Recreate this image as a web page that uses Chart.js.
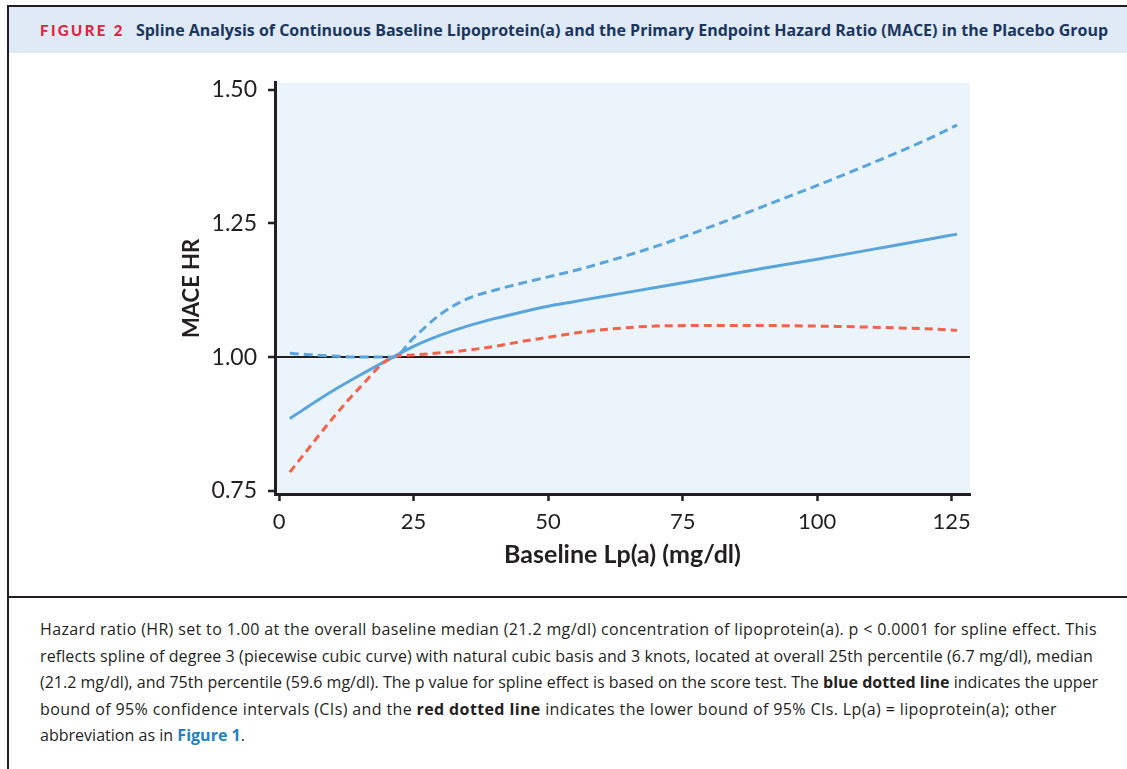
<!DOCTYPE html>
<html>
<head>
<meta charset="utf-8">
<script src="https://cdn.jsdelivr.net/npm/chart.js@4.4.1/dist/chart.umd.min.js"></script>
<style>
	html, body { margin: 0; padding: 0; background: #fff; width: 1127px; height: 769px; overflow: hidden; }
	#frame { position: absolute; left: 7px; top: 5px; width: 1140px; height: 800px; border-left: 2px solid #231f20; border-top: 2px solid #231f20; }
	#band { position: absolute; left: 9px; top: 7px; width: 1118px; height: 46px; background: #dfeaf6; }
	#title { position: absolute; left: 40px; top: 7px; height: 46px; line-height: 46px; white-space: nowrap; font-family: "Open Sans", sans-serif; font-weight: 700; font-size: 16px; color: #1b365d; }
	#title .fig { font-family: Lato, sans-serif; font-weight: 900; color: #e2233b; letter-spacing: 2.4px; margin-right: 11px; font-size: 15px; }
	#sep { position: absolute; left: 9px; top: 596px; width: 1118px; height: 2px; background: #231f20; }
	#caption { position: absolute; left: 40px; top: 616px; font-family: "Open Sans", sans-serif; font-size: 16px; line-height: 26.5px; color: #231f20; white-space: nowrap; }
	#caption .line { display: inline-block; }
	#caption b { font-weight: 700; }
	#caption .ref { color: #1f82c0; font-weight: 700; }
	.chart { position: absolute; left: 150px; top: 58px; width: 850px; height: 522px; }
</style>
</head>
<body>
<div id="frame"></div>
<div id="band"></div>
<div id="title"><span class="fig">FIGURE 2</span>Spline Analysis of Continuous Baseline Lipoprotein(a) and the Primary Endpoint Hazard Ratio (MACE) in the Placebo Group</div>
<div class="chart"><canvas id="spline"></canvas></div>
<div id="sep"></div>
<div id="caption">
<span class="line" data-w="1057">Hazard ratio (HR) set to 1.00 at the overall baseline median (21.2 mg/dl) concentration of lipoprotein(a). p &lt; 0.0001 for spline effect. This</span><br>
<span class="line" data-w="1053">reflects spline of degree 3 (piecewise cubic curve) with natural cubic basis and 3 knots, located at overall 25th percentile (6.7 mg/dl), median</span><br>
<span class="line" data-w="1058">(21.2 mg/dl), and 75th percentile (59.6 mg/dl). The p value for spline effect is based on the score test. The <b>blue dotted line</b> indicates the upper</span><br>
<span class="line" data-w="1017">bound of 95% confidence intervals (CIs) and the <b>red dotted line</b> indicates the lower bound of 95% CIs. Lp(a) = lipoprotein(a); other</span><br>
<span class="line" data-w="205">abbreviation as in <span class="ref">Figure 1</span>.</span>
</div>
<script>
// baseline Lp(a), mg/dl
const lpa = [2, 5, 10, 15, 21.2, 25, 30, 35, 40, 45, 50, 55, 60, 70, 80, 90, 100, 110, 120, 126];
// hazard ratio and 95% CI bounds
const hazardRatio = [0.885, 0.905, 0.937, 0.966, 1.000, 1.020, 1.041, 1.058, 1.072, 1.084, 1.095, 1.104, 1.113, 1.130, 1.148, 1.166, 1.183, 1.201, 1.219, 1.230];
const upperCI = [1.007, 1.005, 1.002, 1.000, 1.000, 1.036, 1.080, 1.109, 1.125, 1.138, 1.150, 1.162, 1.176, 1.207, 1.243, 1.282, 1.321, 1.362, 1.405, 1.434];
const lowerCI = [0.785, 0.823, 0.886, 0.943, 1.000, 1.004, 1.008, 1.013, 1.020, 1.029, 1.037, 1.045, 1.051, 1.058, 1.059, 1.059, 1.058, 1.056, 1.053, 1.050];

const xTicks = [0, 25, 50, 75, 100, 125];
const yTicks = [0.75, 1.00, 1.25, 1.50];

const ink = "#231f20";
const blue = "#5aa6dc";
const red = "#f2634a";

// stretch each caption line to the width it has in the print layout
document.querySelectorAll("#caption .line").forEach(line => {
	const target = Number(line.dataset.w);
	const natural = line.getBoundingClientRect().width;
	const chars = line.textContent.length;
	line.style.letterSpacing = ((target - natural) / chars) + "px";
});

function toPoints(values) {
	return lpa.map((x, i) => ({ x: x, y: values[i] }));
}

// light blue plot background
const plotBackground = {
	id: "plotBackground",
	beforeDraw(chart) {
		const { ctx, chartArea } = chart;
		ctx.save();
		ctx.fillStyle = "#ebf3fb";
		ctx.fillRect(chartArea.left, chartArea.top, chartArea.right - chartArea.left, chartArea.bottom - chartArea.top);
		ctx.restore();
	}
};

const ctx = document.getElementById("spline").getContext("2d");

new Chart(ctx, {
	type: "line",
	data: {
		datasets: [
			{
				label: "Upper 95% CI",
				data: toPoints(upperCI),
				borderColor: blue,
				borderWidth: 3,
				borderDash: [9, 5],
				pointRadius: 0,
				cubicInterpolationMode: "monotone"
			},
			{
				label: "Lower 95% CI",
				data: toPoints(lowerCI),
				borderColor: red,
				borderWidth: 3,
				borderDash: [8, 5],
				pointRadius: 0,
				cubicInterpolationMode: "monotone"
			},
			{
				label: "HR",
				data: toPoints(hazardRatio),
				borderColor: blue,
				borderWidth: 3,
				pointRadius: 0,
				cubicInterpolationMode: "monotone"
			}
		]
	},
	options: {
		responsive: true,
		maintainAspectRatio: false,
		animation: false,
		events: [],
		layout: { padding: { top: 0, right: 30, left: 0, bottom: 0 } },
		plugins: {
			legend: { display: false },
			tooltip: { enabled: false }
		},
		scales: {
			x: {
				type: "linear",
				min: -0.75,
				max: 128.4,
				afterBuildTicks: axis => { axis.ticks = xTicks.map(v => ({ value: v })); },
				afterFit: axis => { axis.height = 86; },
				border: { color: ink, width: 3 },
				grid: { drawOnChartArea: false, tickColor: ink, tickLength: 7, tickWidth: 2.5 },
				ticks: {
					color: ink,
					padding: 8,
					maxRotation: 0,
					font: { family: "Lato", size: 22 },
					callback: v => String(v)
				},
				title: {
					display: true,
					text: "Baseline Lp(a) (mg/dl)",
					color: ink,
					font: { family: "Lato", size: 25, weight: "bold" },
					padding: { top: 0, bottom: 10 }
				}
			},
			y: {
				min: 0.744,
				max: 1.513,
				afterBuildTicks: axis => { axis.ticks = yTicks.map(v => ({ value: v })); },
				afterFit: axis => { axis.width = 125; },
				border: { color: ink, width: 3 },
				grid: {
					color: c => (c.tick && c.tick.value === 1 ? ink : "rgba(0,0,0,0)"),
					lineWidth: 2,
					tickColor: ink,
					tickLength: 7,
					tickWidth: 2.5
				},
				ticks: {
					color: ink,
					padding: 11,
					font: { family: "Lato", size: 23 },
					callback: v => v.toFixed(2)
				},
				title: {
					display: true,
					text: "MACE HR",
					color: ink,
					font: { family: "Lato", size: 22, weight: "bold" },
					padding: { top: 29, bottom: 0 }
				}
			}
		}
	},
	plugins: [plotBackground]
});
</script>
</body>
</html>
